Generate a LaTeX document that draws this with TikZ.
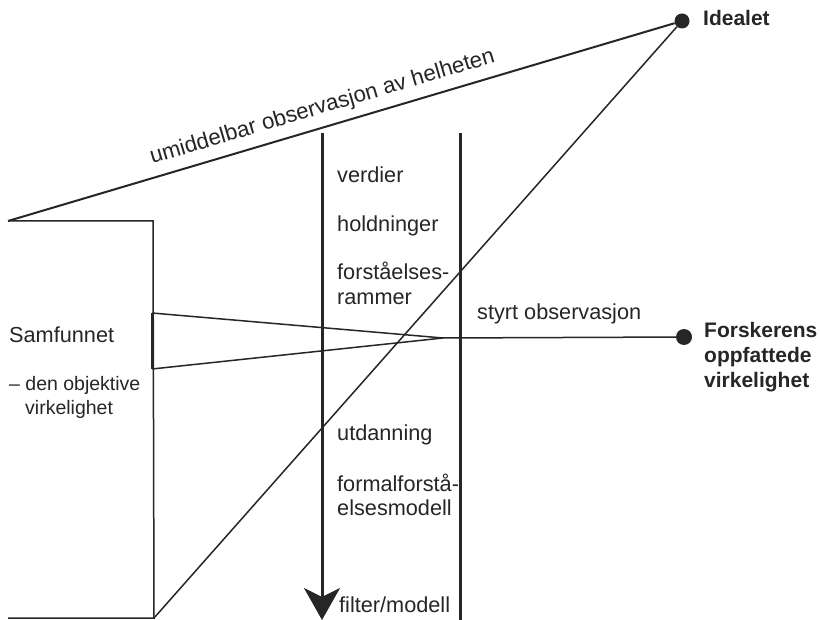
\documentclass[tikz,border=0pt]{standalone}
\usepackage{fontspec}
\setmainfont{Liberation Sans}
\usetikzlibrary{arrows.meta}
\definecolor{ink}{HTML}{262626}
\begin{document}
\begin{tikzpicture}[x=1pt,y=-1pt,
  every node/.style={inner sep=0pt, text=ink, font=\fontsize{21.7}{25}\selectfont},
  lbl/.style={anchor=base west},
  smalllbl/.style={anchor=base west, font=\fontsize{19.5}{23}\selectfont},
  boldlbl/.style={anchor=base west, font=\fontsize{21}{25}\selectfont\bfseries},
  dot/.style={circle, fill=ink, draw=none, minimum size=15pt},
  thinln/.style={draw=ink, line width=1.5pt},
  mainln/.style={draw=ink, line width=2pt},
  thickln/.style={draw=ink, line width=3pt},
]
\useasboundingbox (0,0) rectangle (820,620);
\fill[white] (0,0) rectangle (820,620);

% points
\coordinate (tl) at (8,221);
\coordinate (tc) at (153,221);
\coordinate (bc) at (154,618);
\coordinate (bl) at (8,618);
\coordinate (bt) at (152,313);
\coordinate (bb) at (152,369);
\coordinate (cv) at (443,338);
\coordinate (at) at (322,133);
\coordinate (ab) at (322,620);
\coordinate (rt) at (460,133);
\coordinate (rb) at (460,620);
\node[dot] (ideal) at (682,21) {};
\node[dot, minimum size=16pt] (fors) at (684,337) {};

% lines
\draw[mainln] (tl) -- node[pos=0.48, sloped, above=8pt, font=\fontsize{22.3}{26}\selectfont] (umid) {umiddelbar observasjon av helheten} (ideal);
\draw[thinln] (tl) -- (tc) -- (bc) -- (bl);
\draw[thinln] (ideal) -- (bc);
\draw[thickln] (bt) -- (bb);
\draw[thinln] (bt) -- (cv) -- (bb);
\draw[thinln] (cv) -- (fors);
\draw[thickln, -{Stealth[length=32pt,width=36pt,inset=9pt]}] (at) -- (ab);
\draw[thickln] (rt) -- (rb);

% labels
\node[boldlbl] (idl) at (703,26) {Idealet};
\node[boldlbl] (f1) at (704,338) {Forskerens};
\node[boldlbl] (f2) at (704,363) {oppfattede};
\node[boldlbl] (f3) at (704,388) {virkelighet};

\node[lbl] (verd) at (337,183) {verdier};
\node[lbl] (hold) at (337,232) {holdninger};
\node[lbl] (fr1) at (337,280) {forståelses-};
\node[lbl] (fr2) at (337,305) {rammer};
\node[lbl] (styrt) at (477,320) {styrt observasjon};
\node[lbl] (utd) at (337,441) {utdanning};
\node[lbl] (fm1) at (337,491) {formalforstå-};
\node[lbl] (fm2) at (337,515) {elsesmodell};
\node[lbl] (filt) at (339,612) {filter/modell};

\node[lbl] (samf) at (9,343) {Samfunnet};
\node[smalllbl] (obj1) at (9,391) {– den objektive};
\node[smalllbl] (obj2) at (25,415) {virkelighet};
\end{tikzpicture}
\end{document}
